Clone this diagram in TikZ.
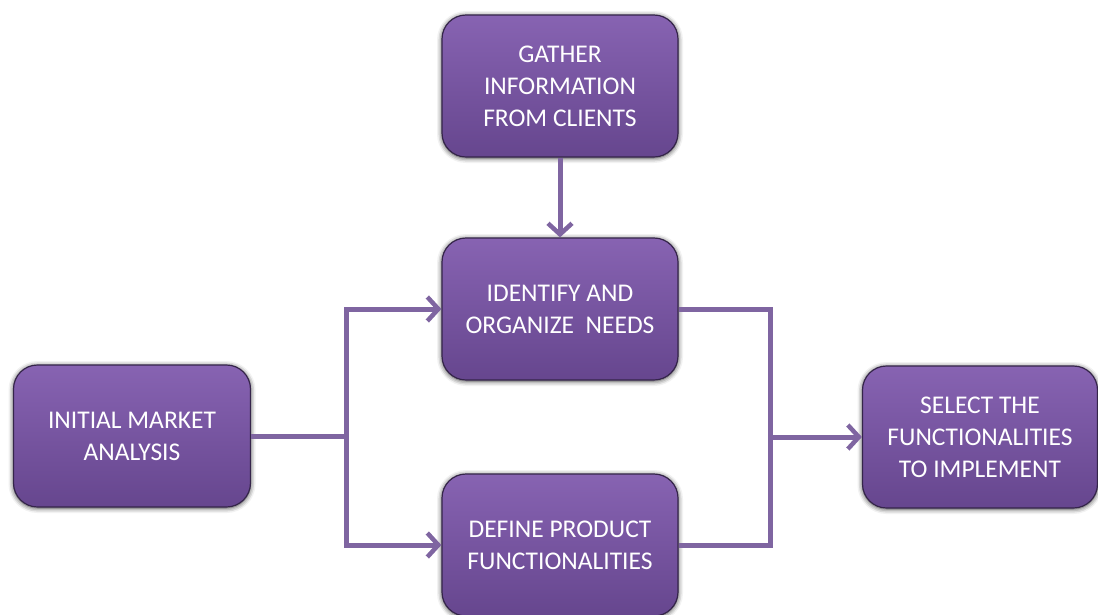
\documentclass[tikz,border=0pt]{standalone}
\usepackage{fontspec}
\setmainfont{Carlito}
\usetikzlibrary{arrows.meta,shadows.blur}
\definecolor{boxtop}{HTML}{8763B2}
\definecolor{boxbot}{HTML}{66468E}
\definecolor{boxrim}{HTML}{35254A}
\definecolor{linkcol}{HTML}{7F65A1}
\tikzset{
  stepbox/.style={
    rounded corners=24pt, minimum width=236pt, minimum height=142pt,
    top color=boxtop, bottom color=boxbot, draw=boxrim, line width=1.2pt,
    blur shadow={shadow xshift=0pt, shadow yshift=-1pt, shadow blur radius=5pt, shadow opacity=80},
    align=center, text=white, font=\fontsize{25.5}{32}\selectfont, inner sep=0pt},
  link/.style={draw=linkcol, line width=5pt},
  flow/.style={link, -{Straight Barb[length=11pt, width=24pt, line width=4.5pt]}}
}
\begin{document}
\begin{tikzpicture}[x=1pt, y=-1pt]
\useasboundingbox (0,0) rectangle (1098,614);
\begin{scope}
\clip (0,0) rectangle (1098,614);
\node[stepbox] (gather) at (560,86) {GATHER\\INFORMATION\\FROM CLIENTS};
\node[stepbox] (identify) at (560,309) {IDENTIFY AND\\ORGANIZE\ \ NEEDS};
\node[stepbox] (define) at (560,545) {DEFINE PRODUCT\\FUNCTIONALITIES};
\node[stepbox, minimum width=237pt] (initial) at (132,436) {INITIAL MARKET\\ANALYSIS};
\node[stepbox, minimum width=235pt] (select) at (980,437) {SELECT THE\\FUNCTIONALITIES\\TO IMPLEMENT};

\coordinate (split) at (346,436);
\coordinate (merge) at (770,437);

\draw[flow] (gather.south) -- (identify.north);
\draw[link] (initial.east) -- (split);
\draw[link, line cap=rect] (split |- identify.west) -- (split |- define.west);
\draw[flow] (split |- identify.west) -- (identify.west);
\draw[flow] (split |- define.west) -- (define.west);
\draw[link, line join=miter] (identify.east) -| (merge) |- (define.east);
\draw[flow] (merge) -- (select.west);
\end{scope}
\end{tikzpicture}
\end{document}
